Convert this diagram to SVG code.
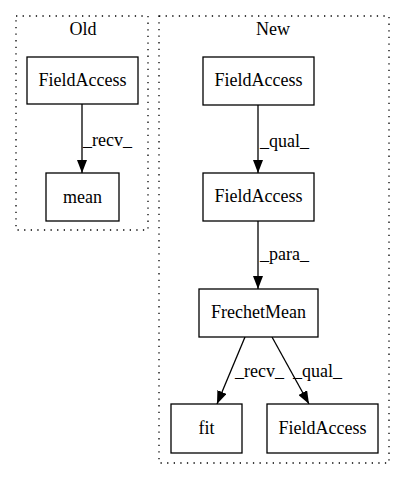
<svg xmlns="http://www.w3.org/2000/svg" width="405" height="480" viewBox="0 0 405 480">
<style>
text{font-family:"Liberation Serif","Times New Roman",serif;font-size:18px;fill:#000}
.n{fill:#fff;stroke:#000;stroke-width:1.3}
.c{fill:none;stroke:#000;stroke-width:1.3;stroke-dasharray:1.3,5.3}
.e{fill:none;stroke:#000;stroke-width:1.3}
</style>
<defs><marker id="a" markerWidth="13" markerHeight="10" refX="13" refY="5" orient="auto" markerUnits="userSpaceOnUse" viewBox="0 0 13 10"><path d="M0,0L13,5L0,10z" fill="#000"/></marker></defs>
<rect width="405" height="480" fill="#fff"/>
<g id="cluster_old"><rect class="c" x="16" y="16" width="132" height="214"/><text x="83" y="35" text-anchor="middle">Old</text></g>
<g id="cluster_new"><rect class="c" x="159" y="16" width="230" height="447"/><text x="273" y="35" text-anchor="middle">New</text></g>
<g id="edges">
<path class="e" d="M82,104L82,173" marker-end="url(#a)"/><text x="83" y="146">_recv_</text>
<path class="e" d="M258,105L258,173" marker-end="url(#a)"/><text x="260" y="147">_qual_</text>
<path class="e" d="M258,221L258,289" marker-end="url(#a)"/><text x="260" y="260">_para_</text>
<path class="e" d="M245,337L217,404" marker-end="url(#a)"/><text x="235" y="377">_recv_</text>
<path class="e" d="M272,337L309,404" marker-end="url(#a)"/><text x="293" y="377">_qual_</text>
</g>
<g id="old_fa"><rect class="n" x="27" y="57" width="111" height="47"/><text x="82.5" y="86" text-anchor="middle">FieldAccess</text></g>
<g id="old_mean"><rect class="n" x="46" y="173" width="73" height="48"/><text x="82.5" y="203" text-anchor="middle">mean</text></g>
<g id="new_fa1"><rect class="n" x="203" y="57" width="111" height="48"/><text x="258.5" y="86" text-anchor="middle">FieldAccess</text></g>
<g id="new_fa2"><rect class="n" x="203" y="173" width="111" height="48"/><text x="258.5" y="202" text-anchor="middle">FieldAccess</text></g>
<g id="new_fm"><rect class="n" x="199" y="289" width="119" height="48"/><text x="258.5" y="318" text-anchor="middle">FrechetMean</text></g>
<g id="new_fit"><rect class="n" x="171" y="404" width="71" height="49"/><text x="206.5" y="434" text-anchor="middle">fit</text></g>
<g id="new_fa3"><rect class="n" x="267" y="404" width="111" height="49"/><text x="322.5" y="434" text-anchor="middle">FieldAccess</text></g>
</svg>
